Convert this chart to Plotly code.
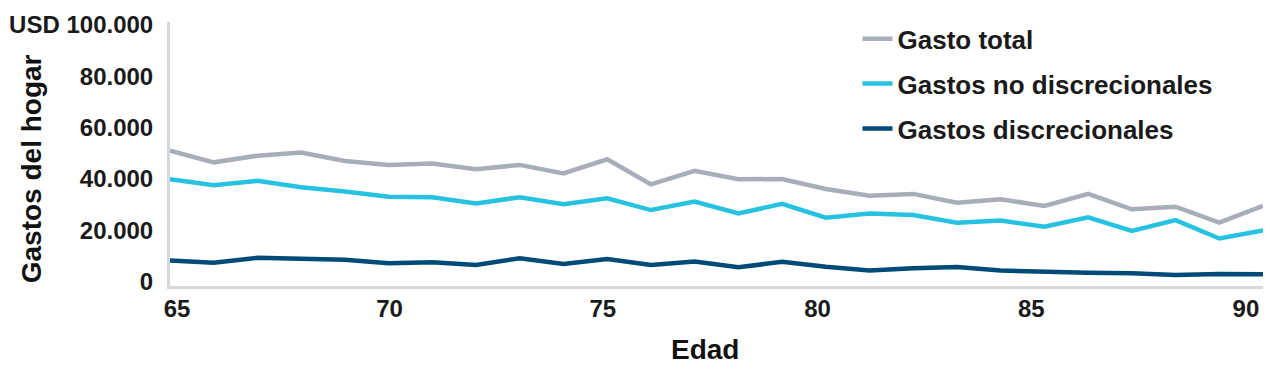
import plotly.graph_objects as go

ages = list(range(65, 91))
gasto_total = [51000, 46500, 49100, 50300, 47000, 45500, 46000, 43800, 45500, 42200,
               47700, 37900, 43200, 39900, 40000, 36100, 33500, 34200, 30800, 32100,
               29500, 34200, 28200, 29200, 23000, 29500]
gastos_no_disc = [39900, 37600, 39300, 36800, 35100, 33100, 32900, 30500, 32900, 30200,
                  32500, 27900, 31200, 26600, 30300, 24900, 26600, 26000, 23000, 23800,
                  21400, 25100, 19800, 24000, 16800, 19900]
gastos_disc = [8200, 7400, 9300, 9100, 8500, 7200, 7600, 6500, 9100, 6900,
               8800, 6500, 7800, 5600, 7700, 5800, 4300, 5200, 5700, 4300,
               3700, 3500, 3300, 2600, 3000, 2900]

series_names = ["Gasto total", "Gastos no discrecionales", "Gastos discrecionales"]
series_colors = ["#a9adb9", "#27c2df", "#004a78"]

x_tick_labels = ["65", "70", "75", "80", "85", "90"]
x_tick_pos = [65.16, 70.02, 74.9, 79.81, 84.7, 89.61]
y_tick_vals = [0, 20000, 40000, 60000, 80000, 100000]
y_tick_text = ["0", "20.000", "40.000", "60.000", "80.000", "USD 100.000"]

fig = go.Figure()
for name, vals, col in zip(series_names, [gasto_total, gastos_no_disc, gastos_disc], series_colors):
    fig.add_trace(go.Scatter(x=ages, y=vals, mode="lines", name=name,
                             legendgroup=name,
                             line=dict(color=col, width=4.5)))

FONT = "Liberation Sans, Arial, sans-serif"
tick_font = dict(family=FONT, size=24, color="#1a1a1a", weight=700)

fig.update_layout(
    width=1271, height=380,
    margin=dict(l=170, r=8, t=22, b=94, autoexpand=False),
    plot_bgcolor="white", paper_bgcolor="white",
    font=dict(family=FONT, color="#1a1a1a"),
    showlegend=True,
    legend=dict(x=0.629, y=1.025, xanchor="left", yanchor="top",
                font=dict(family=FONT, size=26, color="#1a1a1a", weight=700),
                tracegroupgap=8, bgcolor="rgba(0,0,0,0)"),
    xaxis=dict(range=[65, 90], tickmode="array", tickvals=x_tick_pos, ticktext=x_tick_labels,
               showgrid=False, zeroline=False, showline=True, linecolor="#d5d8dd", linewidth=3,
               ticks="", tickfont=tick_font, ticklabelstandoff=-1),
    yaxis=dict(range=[-1700, 101200], tickmode="array", tickvals=y_tick_vals, ticktext=y_tick_text,
               showgrid=False, zeroline=False, showline=True, linecolor="#d5d8dd", linewidth=3,
               ticks="", tickfont=tick_font, ticklabelstandoff=9),
)

fig.add_annotation(text="Edad", xref="paper", yref="paper", x=0.4895, y=-0.2424, yanchor="middle",
                   showarrow=False, font=dict(family=FONT, size=28, color="#111111", weight=700))
fig.add_annotation(text="Gastos del hogar", xref="paper", yref="paper", x=-0.127, y=0.443,
                   xanchor="center", yanchor="middle", textangle=-90, showarrow=False,
                   font=dict(family=FONT, size=28, color="#111111", weight=700))

fig.write_html("out.html", config={"displayModeBar": False},
               post_script="document.body.style.margin='0px';")
